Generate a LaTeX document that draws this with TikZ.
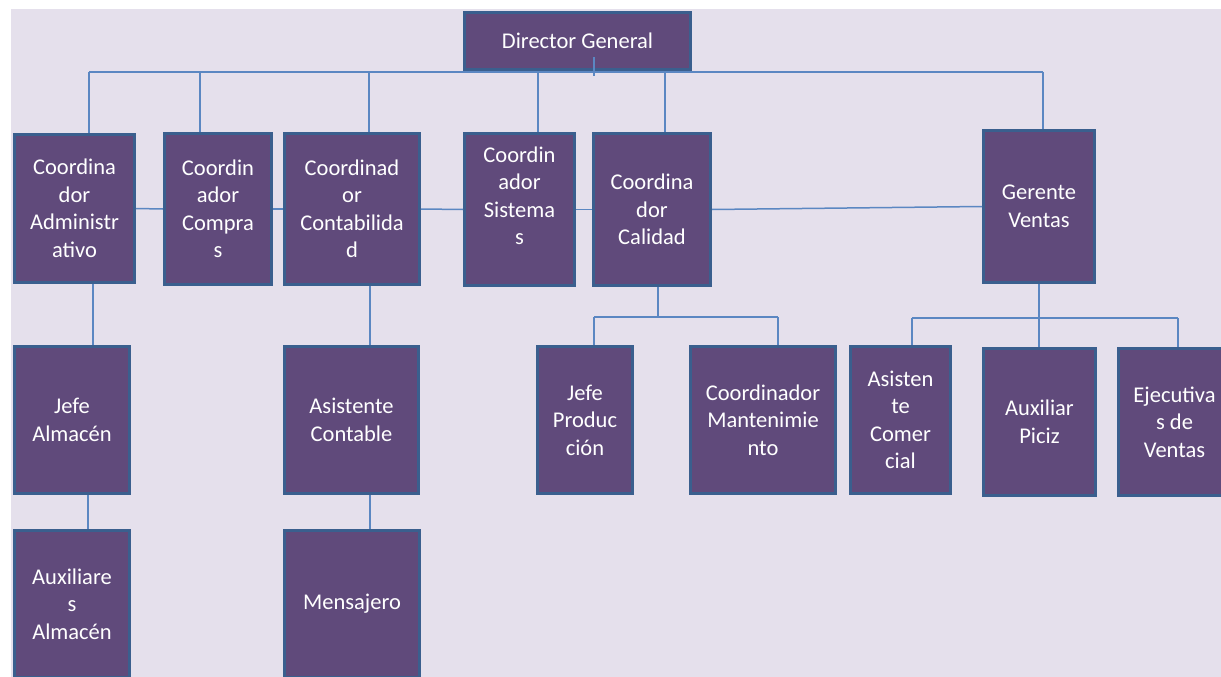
\documentclass[tikz,border=0pt]{standalone}
\usepackage{fontspec}
\setmainfont{Carlito}
\definecolor{paper}{HTML}{E5E0EC}
\definecolor{boxfill}{HTML}{604A7B}
\definecolor{boxline}{HTML}{3A5F8E}
\definecolor{linkblue}{HTML}{5B87C2}
\tikzset{
  unit/.style={rectangle, draw=boxline, fill=boxfill, line width=3pt, text=white,
    align=center, inner sep=0pt, font={\fontsize{22.5}{27.5}\selectfont}},
  link/.style={draw=linkblue, line width=1.5pt},
}
\begin{document}
\begin{tikzpicture}[x=1pt, y=-1pt]
        \useasboundingbox (0,0) rectangle (1221,677);
        \clip (0,0) rectangle (1221,677);
        \fill[white] (0,0) rectangle (1221,677);
        \fill[paper] (11,9) rectangle (1221,677);
        % first level
        \node[unit, minimum width=226pt, minimum height=57pt]  (director)  at (577.5,41)   {Director General};
        \node[unit, minimum width=120pt, minimum height=148pt] (admin)     at (74.5,208.5) {Coordina\\dor\\Administr\\ativo};
        \node[unit, minimum width=107pt, minimum height=151pt] (compras)   at (218,209)    {Coordin\\ador\\Compra\\s};
        \node[unit, minimum width=135pt, minimum height=151pt] (contab)    at (352,209)    {Coordinad\\or\\Contabilida\\d};
        \node[unit, minimum width=110pt, minimum height=152pt] (sistemas)  at (519.5,209.5) {Coordin\\ador\\Sistema\\s\\\mbox{}};
        \node[unit, minimum width=117pt, minimum height=152pt] (calidad)   at (652,209.5)  {Coordina\\dor\\Calidad};
        \node[unit, minimum width=111pt, minimum height=152pt] (gerente)   at (1039,206.5) {Gerente\\Ventas};
        % second level
        \node[unit, minimum width=115pt, minimum height=147pt] (jefealm)   at (72,420)     {Jefe\\Almacén};
        \node[unit, minimum width=115pt, minimum height=147pt] (auxalm)    at (72,604)     {Auxiliare\\s\\Almacén};
        \node[unit, minimum width=134pt, minimum height=147pt] (asist)     at (351.5,420)  {Asistente\\Contable};
        \node[unit, minimum width=135pt, minimum height=147pt] (mensajero) at (352,604)    {Mensajero};
        \node[unit, minimum width=95pt,  minimum height=147pt] (jefeprod)  at (585,420)    {Jefe\\Produc\\ción};
        \node[unit, minimum width=145pt, minimum height=147pt] (mant)      at (763,420)    {Coordinador\\Mantenimie\\nto};
        \node[unit, minimum width=100pt, minimum height=147pt] (asiscom)   at (900.5,420)  {Asisten\\te\\Comer\\cial};
        \node[unit, minimum width=112pt, minimum height=147pt] (auxpiciz)  at (1039.5,422) {Auxiliar\\Piciz};
        \node[unit, minimum width=112pt, minimum height=147pt] (ejec)      at (1174.5,422) {Ejecutiva\\s de\\Ventas};
        % connector points
        \coordinate (barleft)      at (89,72);
        \coordinate (barright)     at (1043,72);
        \coordinate (dropcompras)  at (200,72);
        \coordinate (dropcontab)   at (369,72);
        \coordinate (dropsistemas) at (538,72);
        \coordinate (dropcalidad)  at (665,72);
        \coordinate (dirstub)      at (594,57);
        \coordinate (dirstubend)   at (594,76);
        \coordinate (almx)         at (93,0);
        \coordinate (auxx)         at (88,0);
        \coordinate (contx)        at (370,0);
        \coordinate (calx)         at (658,0);
        \coordinate (calbar)       at (658,317);
        \coordinate (prodbar)      at (594,317);
        \coordinate (mantbar)      at (778,317);
        \coordinate (comercialbar) at (912,318);
        \coordinate (ejecbar)      at (1178,318);
        % top bar
        \draw[link] (barleft) -- (barright);
        \draw[link] (dirstub) -- (dirstubend);
        \draw[link] (barleft) -- (barleft |- admin.north);
        \draw[link] (dropcompras) -- (dropcompras |- compras.north);
        \draw[link] (dropcontab) -- (dropcontab |- contab.north);
        \draw[link] (dropsistemas) -- (dropsistemas |- sistemas.north);
        \draw[link] (dropcalidad) -- (dropcalidad |- calidad.north);
        \draw[link] (barright) -- (barright |- gerente.north);
        % middle line
        \draw[link] (admin.east) -- (compras.west);
        \draw[link] (compras.east) -- (contab.west);
        \draw[link] (contab.east) -- (sistemas.west);
        \draw[link] (sistemas.east) -- (calidad.west);
        \draw[link] (calidad.east) -- (gerente.west);
        % lower branches
        \draw[link] (admin.south -| almx) -- (jefealm.north -| almx);
        \draw[link] (jefealm.south -| auxx) -- (auxalm.north -| auxx);
        \draw[link] (contab.south -| contx) -- (asist.north -| contx);
        \draw[link] (asist.south -| contx) -- (mensajero.north -| contx);
        \draw[link] (calidad.south -| calx) -- (calbar);
        \draw[link] (prodbar) -- (mantbar);
        \draw[link] (prodbar) -- (prodbar |- jefeprod.north);
        \draw[link] (mantbar) -- (mantbar |- mant.north);
        \draw[link] (gerente.south) -- (gerente.south |- auxpiciz.north);
        \draw[link] (comercialbar) -- (ejecbar);
        \draw[link] (comercialbar) -- (comercialbar |- asiscom.north);
        \draw[link] (ejecbar) -- (ejecbar |- ejec.north);
\end{tikzpicture}
\end{document}
